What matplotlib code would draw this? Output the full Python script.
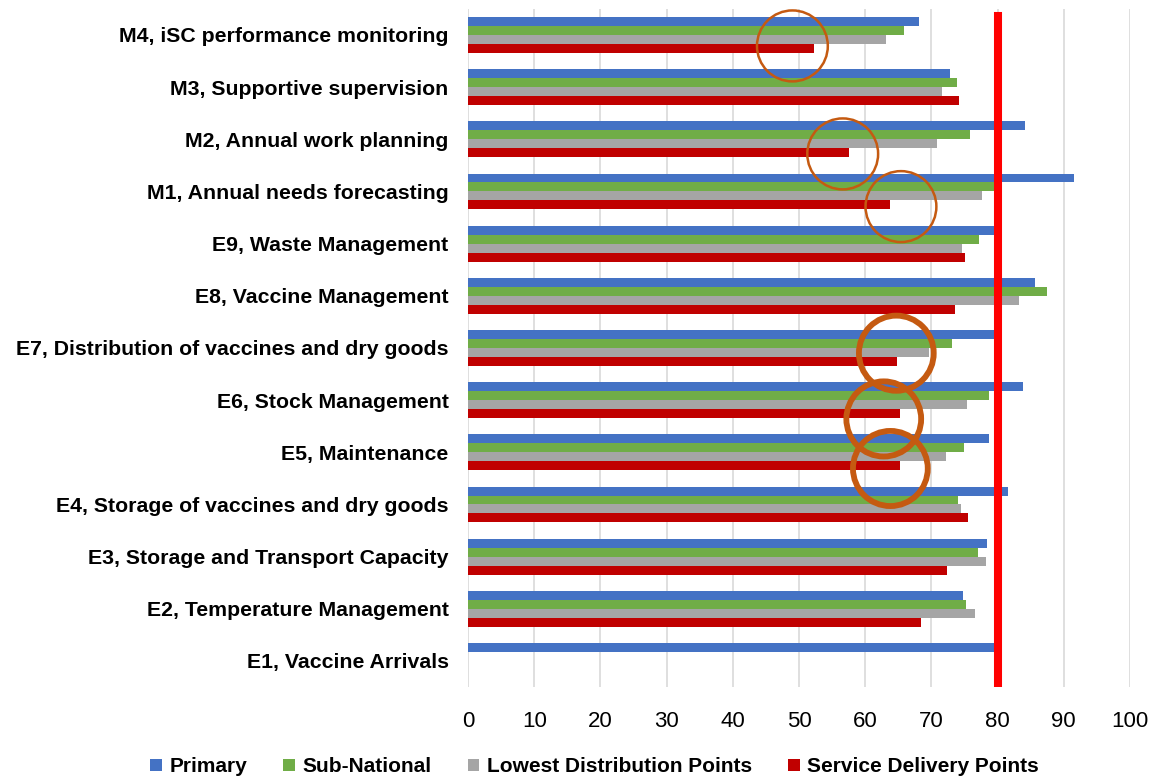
import numpy as np
import matplotlib
matplotlib.use("Agg")
import matplotlib.pyplot as plt
from matplotlib.patches import Ellipse, Patch

plt.rcParams['font.family'] = ['Liberation Sans', 'DejaVu Sans']

# ---- Data (top row first) ----
categories = [
    "M4, iSC performance monitoring",
    "M3, Supportive supervision",
    "M2, Annual work planning",
    "M1, Annual needs forecasting",
    "E9, Waste Management",
    "E8, Vaccine Management",
    "E7, Distribution of vaccines and dry goods",
    "E6, Stock Management",
    "E5, Maintenance",
    "E4, Storage of vaccines and dry goods",
    "E3, Storage and Transport Capacity",
    "E2, Temperature Management",
    "E1, Vaccine Arrivals",
]
primary = [68.2, 72.8, 84.1, 91.5, 79.7, 85.6, 79.6, 83.9, 78.7, 81.5, 78.4, 74.8, 79.7]
sub_national = [65.9, 73.9, 75.8, 79.7, 77.2, 87.4, 73.1, 78.7, 74.9, 74.0, 77.0, 75.2, np.nan]
lowest_dist = [63.2, 71.6, 70.9, 77.7, 74.6, 83.2, 69.6, 75.4, 72.2, 74.4, 78.2, 76.6, np.nan]
service_delivery = [52.3, 74.2, 57.5, 63.8, 75.1, 73.5, 64.8, 65.2, 65.2, 75.5, 72.4, 68.4, np.nan]

series_names = ["Primary", "Sub-National", "Lowest Distribution Points", "Service Delivery Points"]
series_colors = ["#4472C4", "#70AD47", "#A5A5A5", "#C00000"]
TARGET = 80

# highlight rings: (x centre, row position, ring weight)
rings = [
    (49.0, 0.21, "thin"),
    (56.6, 2.28, "thin"),
    (65.4, 3.29, "thin"),
    (64.7, 6.10, "thick"),
    (62.8, 7.36, "thick"),
    (63.8, 8.31, "thick"),
]

# ---- Plot ----
fig = plt.figure(figsize=(11.5, 7.79), dpi=100)
ax = fig.add_axes([0.407, 0.118, 0.5756, 0.8706])

y = np.arange(len(categories))
bar_h = 0.172
all_series = [primary, sub_national, lowest_dist, service_delivery]
for k, (vals, name, col) in enumerate(zip(all_series, series_names, series_colors)):
    ax.barh(y + (k - 1.5) * bar_h, vals, height=bar_h, color=col, label=name, zorder=2)

ax.axvline(TARGET, ymin=0, ymax=0.989, color="#FF0000", linewidth=5.8, zorder=3)

for cx, cy, weight in rings:
    if weight == "thick":
        e = Ellipse((cx, cy), width=11.3, height=1.44, fill=False,
                    edgecolor="#C55A11", linewidth=4.2, zorder=4)
    else:
        e = Ellipse((cx, cy), width=10.7, height=1.36, fill=False,
                    edgecolor="#C55A11", linewidth=1.8, zorder=4)
    ax.add_patch(e)

ax.set_xlim(0, 100)
ax.set_ylim(len(categories) - 0.5, -0.5)
ax.set_xticks(np.arange(0, 101, 10))
ax.set_yticks(y)
ax.set_yticklabels(categories, fontsize=15.3, fontweight="bold")
ax.tick_params(axis="x", length=0, labelsize=16, pad=17)
ax.tick_params(axis="y", length=0, pad=14)
ax.grid(axis="x", color="#D9D9D9", linewidth=1.2, zorder=0)
ax.set_axisbelow(True)
for s in ax.spines.values():
    s.set_visible(False)

handles = [Patch(facecolor=c, edgecolor="none") for c in series_colors]
fig.legend(handles, series_names, loc="center", bbox_to_anchor=(0.517, 0.0155),
           ncol=4, frameon=False, prop={"size": 15, "weight": "bold"},
           handlelength=0.55, handleheight=0.55, handletextpad=0.35,
           columnspacing=1.75)

fig.savefig("out.png", dpi=100)
